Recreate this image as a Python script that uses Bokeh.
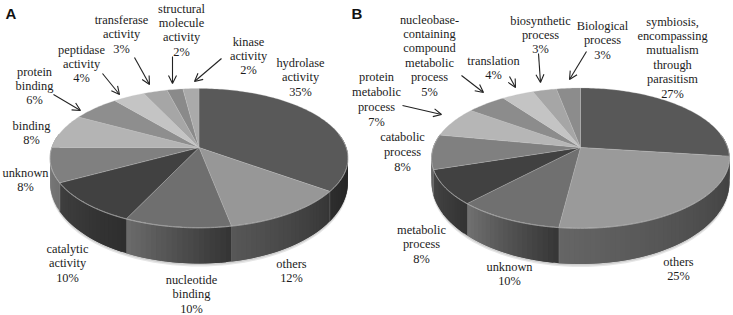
import math
from bokeh.plotting import figure
from bokeh.models import Arrow, OpenHead, Range1d
from bokeh.core.properties import value
from bokeh.embed import file_html
from bokeh.resources import INLINE

# ---- data ----
a_names = ["hydrolase activity", "others", "nucleotide binding", "catalytic activity", "unknown", "binding",
           "protein binding", "peptidase activity", "transferase activity", "structural molecule activity", "kinase activity"]
a_values = [35, 12, 10, 10, 8, 8, 6, 4, 3, 2, 2]
a_top = ["#595959", "#979797", "#6f6f6f", "#414141", "#808080", "#b4b4b4", "#8e8e8e", "#c4c4c4", "#a6a6a6", "#8a8a8a", "#aaaaaa"]
a_rim_l = [0x2e, 0x58, 0x6c, 0x40, 0x80, 0x80, 0x80, 0x80, 0x80, 0x80, 0x80]
a_rim_r = [0x1c, 0x36, 0x34, 0x2e, 0x70, 0x80, 0x80, 0x80, 0x80, 0x80, 0x80]

b_names = ["symbiosis, encompassing mutualism through parasitism", "others", "unknown", "metabolic process",
           "catabolic process", "protein metabolic process", "nucleobase-containing compound metabolic process",
           "translation", "biosynthetic process", "Biological process"]
b_values = [27, 25, 10, 8, 8, 7, 5, 4, 3, 3]
b_top = ["#585858", "#9a9a9a", "#707070", "#414141", "#808080", "#b6b6b6", "#8c8c8c", "#c4c4c4", "#a6a6a6", "#8c8c8c"]
b_rim_l = [0x30, 0x66, 0x72, 0x46, 0x70, 0x80, 0x80, 0x80, 0x80, 0x80]
b_rim_r = [0x30, 0x3e, 0x36, 0x34, 0x60, 0x80, 0x80, 0x80, 0x80, 0x80]

# label blocks: (centre x, y of first line, line step, lines)
labels = [
    (300, 62, 14.5, ["hydrolase", "activity", "35%"]),
    (248, 41, 14, ["kinase", "activity", "2%"]),
    (181, 8, 14.4, ["structural", "molecule", "activity", "2%"]),
    (121, 19, 14.5, ["transferase", "activity", "3%"]),
    (81, 49, 14, ["peptidase", "activity", "4%"]),
    (34, 71, 14.3, ["protein", "binding", "6%"]),
    (31, 125, 14, ["binding", "8%"]),
    (25, 172, 14, ["unknown", "8%"]),
    (67, 248, 14.5, ["catalytic", "activity", "10%"]),
    (191, 279, 14.5, ["nucleotide", "binding", "10%"]),
    (291, 263, 14, ["others", "12%"]),
    (672, 21, 14.4, ["symbiosis,", "encompassing", "mutualism", "through", "parasitism", "27%"]),
    (602, 25, 14.5, ["Biological", "process", "3%"]),
    (540, 20, 14, ["biosynthetic", "process", "3%"]),
    (493, 60, 14, ["translation", "4%"]),
    (429, 19, 14.4, ["nucleobase-", "containing", "compound", "metabolic", "process", "5%"]),
    (376, 76, 15, ["protein", "metabolic", "process", "7%"]),
    (402, 136, 15, ["catabolic", "process", "8%"]),
    (421, 229, 14.5, ["metabolic", "process", "8%"]),
    (509, 266, 14, ["unknown", "10%"]),
    (678, 261, 14, ["others", "25%"]),
]
arrows = [
    (53, 94, 80, 110), (102, 73, 119, 94), (134, 57, 149, 84), (172, 56, 172, 83), (221, 58, 194, 81),
    (402, 105, 441, 114), (461, 75, 483, 92), (509, 76, 515, 87), (538, 53, 540, 82), (586, 51, 569, 79),
]

W, H = 733, 315
p = figure(width=W, height=H, x_range=Range1d(0, W), y_range=Range1d(H, 0),
           output_backend="svg", toolbar_location=None, min_border=0, outline_line_color=None)
p.axis.visible = False
p.grid.visible = False
p.background_fill_color = "white"
p.border_fill_color = "white"

HP = 0.15          # perspective of the disc


def project(theta, cx, cy, a, b):
    """angle clockwise from 12 o'clock -> page position on the top ellipse"""
    u, v = math.sin(theta), math.cos(theta)
    den = 1 + HP * v
    return cx + a * u * math.sqrt(1 - HP ** 2) / den, cy - b * (v + HP) / den


def depth(theta, d):
    return d * (0.6 - 0.4 * math.cos(theta))


def drop(theta, cx, cy, a, b, d):
    x, y = project(theta, cx, cy, a, b)
    return x, y + depth(theta, d)


def pie(values, top, rim_l, rim_r, cx, cy, a, b, d):
    total = sum(values)
    edges = [0.0]
    for val in values:
        edges.append(edges[-1] + 2 * math.pi * val / total)
    lo, hi = math.radians(78), math.radians(282)
    sil = [lo + (hi - lo) * i / 160 for i in range(161)]
    # soft shadow under the rim
    for off, col in ((3, "#e6e6e6"), (1.6, "#cfcfcf")):
        pts = [drop(t, cx, cy, a, b, d) for t in sil]
        xs = [q[0] for q in pts] + [project(t, cx, cy, a, b)[0] for t in reversed(sil)]
        ys = [q[1] + off for q in pts] + [project(t, cx, cy, a, b)[1] for t in reversed(sil)]
        p.patch(xs, ys, fill_color=col, line_color=None)
    # rim
    for i in range(len(values)):
        s, e = max(edges[i], lo), min(edges[i + 1], hi)
        if e <= s:
            continue
        n = max(2, int((e - s) / 0.03))
        for j in range(n):
            t0 = s + (e - s) * j / n
            t1 = min(e, s + (e - s) * (j + 2) / n)     # overlaps the next strip, hiding seams
            f = 1 - (j + .5) / n
            g = int(rim_l[i] + (rim_r[i] - rim_l[i]) * f)
            col = "#%02x%02x%02x" % (g, g, g)
            q0, q1 = project(t0, cx, cy, a, b), project(t1, cx, cy, a, b)
            r0, r1 = drop(t0, cx, cy, a, b, d), drop(t1, cx, cy, a, b, d)
            p.patch([q0[0], q1[0], r1[0], r0[0]], [q0[1], q1[1], r1[1], r0[1]],
                    fill_color=col, line_color=None)
        if edges[i + 1] < hi:
            q, r = project(e, cx, cy, a, b), drop(e, cx, cy, a, b, d)
            p.line([q[0], r[0]], [q[1], r[1]], line_color="#8a8a8a", line_width=0.7, line_alpha=0.7)
    # top face
    hub = (cx, cy - b * HP)
    for i in range(len(values)):
        n = max(3, int((edges[i + 1] - edges[i]) / 0.02))
        ts = [edges[i] + (edges[i + 1] - edges[i]) * j / n for j in range(n + 1)]
        pts = [project(t, cx, cy, a, b) for t in ts]
        p.patch([hub[0]] + [q[0] for q in pts], [hub[1]] + [q[1] for q in pts],
                fill_color=top[i], line_color="#c8c8c8", line_alpha=0.45, line_width=0.6)
    # bevel along the front
    pts = [project(t, cx, cy, a, b) for t in sil]
    p.line([q[0] for q in pts], [q[1] + 0.4 for q in pts], line_color="#b4b4b4", line_alpha=0.7, line_width=1)


pie(a_values, a_top, a_rim_l, a_rim_r, 198.5, 157.5, 149, 69.5, 36)
pie(b_values, b_top, b_rim_l, b_rim_r, 580, 157.5, 149, 70, 36)

xs, ys, txt = [], [], []
for cx_, y0, step, lines in labels:
    for k, s in enumerate(lines):
        xs.append(cx_)
        ys.append(y0 + k * step)
        txt.append(s)
p.text(xs, ys, txt, text_font=value("Liberation Serif"), text_font_size="12.4px", text_color="#1c1c1c",
       text_align="center", text_baseline="middle")
p.text([5, 351], [13, 13], ["A", "B"], text_font=value("Liberation Sans"), text_font_style="bold",
       text_font_size="15px", text_color="#111111", text_baseline="middle")

for x0, y0, x1, y1 in arrows:
    p.add_layout(Arrow(end=OpenHead(size=8, line_color="#222222", line_width=1.1),
                       x_start=x0, y_start=y0, x_end=x1, y_end=y1,
                       line_color="#222222", line_width=1.1))

open("out.html", "w").write(file_html(p, INLINE))
